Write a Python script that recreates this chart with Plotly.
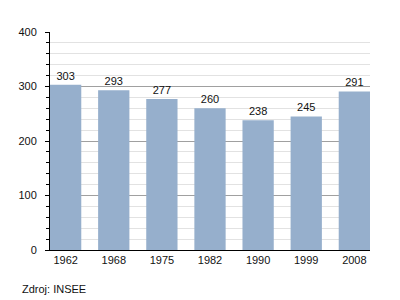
import plotly.graph_objects as go

years = ["1962", "1968", "1975", "1982", "1990", "1999", "2008"]
population = [303, 293, 277, 260, 238, 245, 291]
source_text = "Zdroj: INSEE"

bar_frac = 0.65
fig = go.Figure()
fig.add_trace(go.Bar(
    x=list(range(len(years))), y=population,
    width=bar_frac,
    marker=dict(color="#96AFCC", line=dict(width=0)),
    text=[str(v) for v in population], textposition="outside",
    textfont=dict(family="Liberation Sans, Arial", size=11, color="#111"),
    cliponaxis=False,
))
fig.update_layout(
    width=400, height=300,
    margin=dict(l=50, r=30, t=32, b=50),
    paper_bgcolor="white", plot_bgcolor="white",
    showlegend=False,
    font=dict(family="Liberation Sans, Arial", size=11, color="#111"),
    xaxis=dict(
        tickmode="array", tickvals=list(range(len(years))), ticktext=years,
        range=[-bar_frac / 2, len(years) - 1 + bar_frac / 2],
        showline=True, linecolor="black", linewidth=1,
        showgrid=False, ticks="", zeroline=False,
        tickfont=dict(size=11),
        ticklabelstandoff=0,
    ),
    yaxis=dict(
        range=[0, 400], tickvals=[0, 100, 200, 300, 400],
        showline=True, linecolor="black", linewidth=1,
        ticks="outside", ticklen=4, tickcolor="black",
        showgrid=True, gridcolor="#A0A0A0", gridwidth=1,
        zeroline=False,
        minor=dict(dtick=20, showgrid=True, gridcolor="#E2E2E2",
                   ticks="outside", ticklen=3, tickcolor="black"),
        tickfont=dict(size=11),
        ticklabelstandoff=6,
    ),
    annotations=[dict(
        text=source_text, xref="paper", yref="paper",
        x=-30/320, y=-39/218,
        showarrow=False, xanchor="left", yanchor="middle",
        font=dict(size=11, color="#111"),
    )],
)
fig.write_html("out.html")
